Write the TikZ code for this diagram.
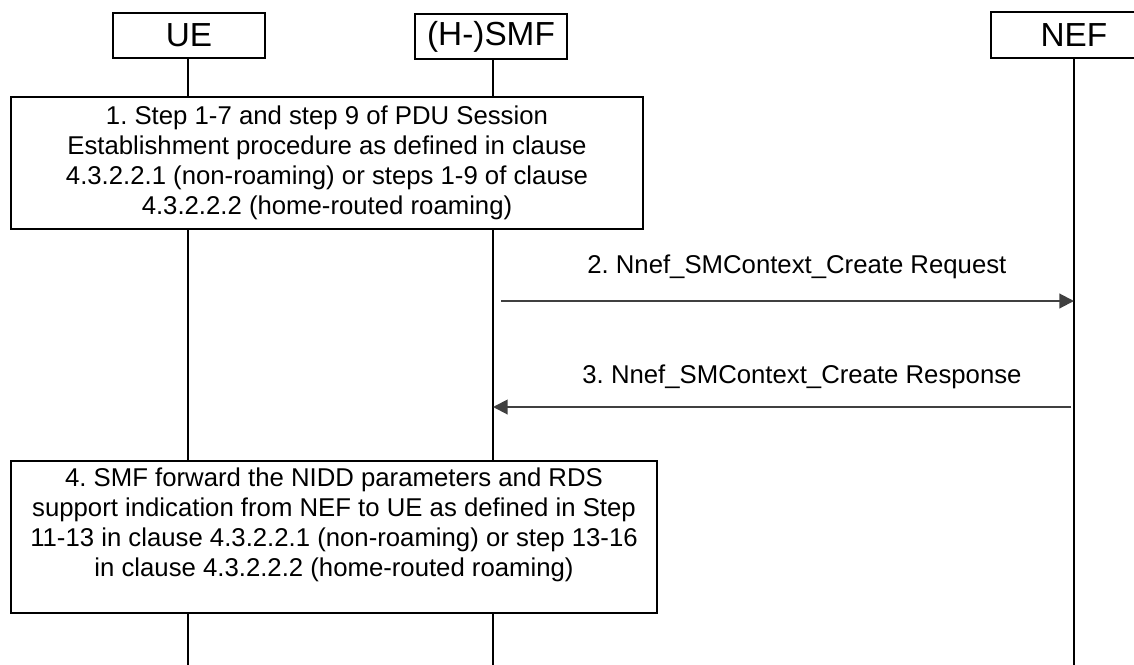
\documentclass[tikz,border=0pt]{standalone}
\usepackage{fontspec}
\setmainfont{Liberation Sans}
\usetikzlibrary{arrows.meta, positioning, calc}
\definecolor{msggray}{HTML}{404040}
\frenchspacing

\begin{document}
\begin{tikzpicture}[x=0.75pt, y=-0.75pt,
    entity/.style={rectangle, draw, line width=1.5pt, fill=white, minimum width=114pt, minimum height=34pt, inner sep=0pt, font=\fontsize{25}{28}\selectfont},
    lifeline/.style={line width=1.5pt},
    stepbox/.style={rectangle, draw, line width=1.5pt, fill=white, align=center, inner sep=2pt, font=\fontsize{19.3}{22.5}\selectfont},
    msg/.style={-{Triangle[length=11pt, width=11pt]}, line width=1.5pt, draw=msggray, fill=msggray},
    msglabel/.style={anchor=base, inner sep=0pt, font=\fontsize{19.3}{22.5}\selectfont}
]
\useasboundingbox (0,0) rectangle (1134,664);

% Entities
\node[entity] (ue) at (189,35.5) {UE};
\node[entity] (smf) at (491,36.5) {(H-)SMF};
\node[entity, minimum width=125pt] (nef) at (1074,35) {NEF};

% Lifelines
\coordinate (floor) at (0,670);
\draw[lifeline] ([xshift=-0.75pt]ue.south) -- ([xshift=-0.75pt]ue.south |- floor);
\draw[lifeline] ([xshift=1.5pt]smf.south) -- ([xshift=1.5pt]smf.south |- floor);
\draw[lifeline] (nef.south) -- (nef.south |- floor);

% Steps
\node[stepbox, minimum width=474pt, minimum height=99pt] (s1) at (327,163) {1. Step 1-7 and step 9 of PDU Session\\Establishment procedure as defined in clause\\4.3.2.2.1 (non-roaming) or steps 1-9 of clause\\4.3.2.2.2 (home-routed roaming)};
\node[stepbox, minimum width=484.5pt, minimum height=114pt] (s4) at (334,537) {4. SMF forward the NIDD parameters and RDS\\support indication from NEF to UE as defined in Step\\11-13 in clause 4.3.2.2.1 (non-roaming) or step 13-16\\in clause 4.3.2.2.2 (home-routed roaming)\\\mbox{}};

% Messages
\coordinate (m2) at (0,301);
\coordinate (m3) at (0,407);
\draw[msg] ($(smf.south |- m2)+(10,0)$) -- node[msglabel, xshift=7pt, yshift=21pt] {2. Nnef\_SMContext\_Create Request} (nef.south |- m2);
\draw[msg] ($(nef.south |- m3)+(-3,0)$) -- node[msglabel, xshift=15pt, yshift=18pt] {3. Nnef\_SMContext\_Create Response} ($(smf.south |- m3)+(2,0)$);

\end{tikzpicture}
\end{document}
